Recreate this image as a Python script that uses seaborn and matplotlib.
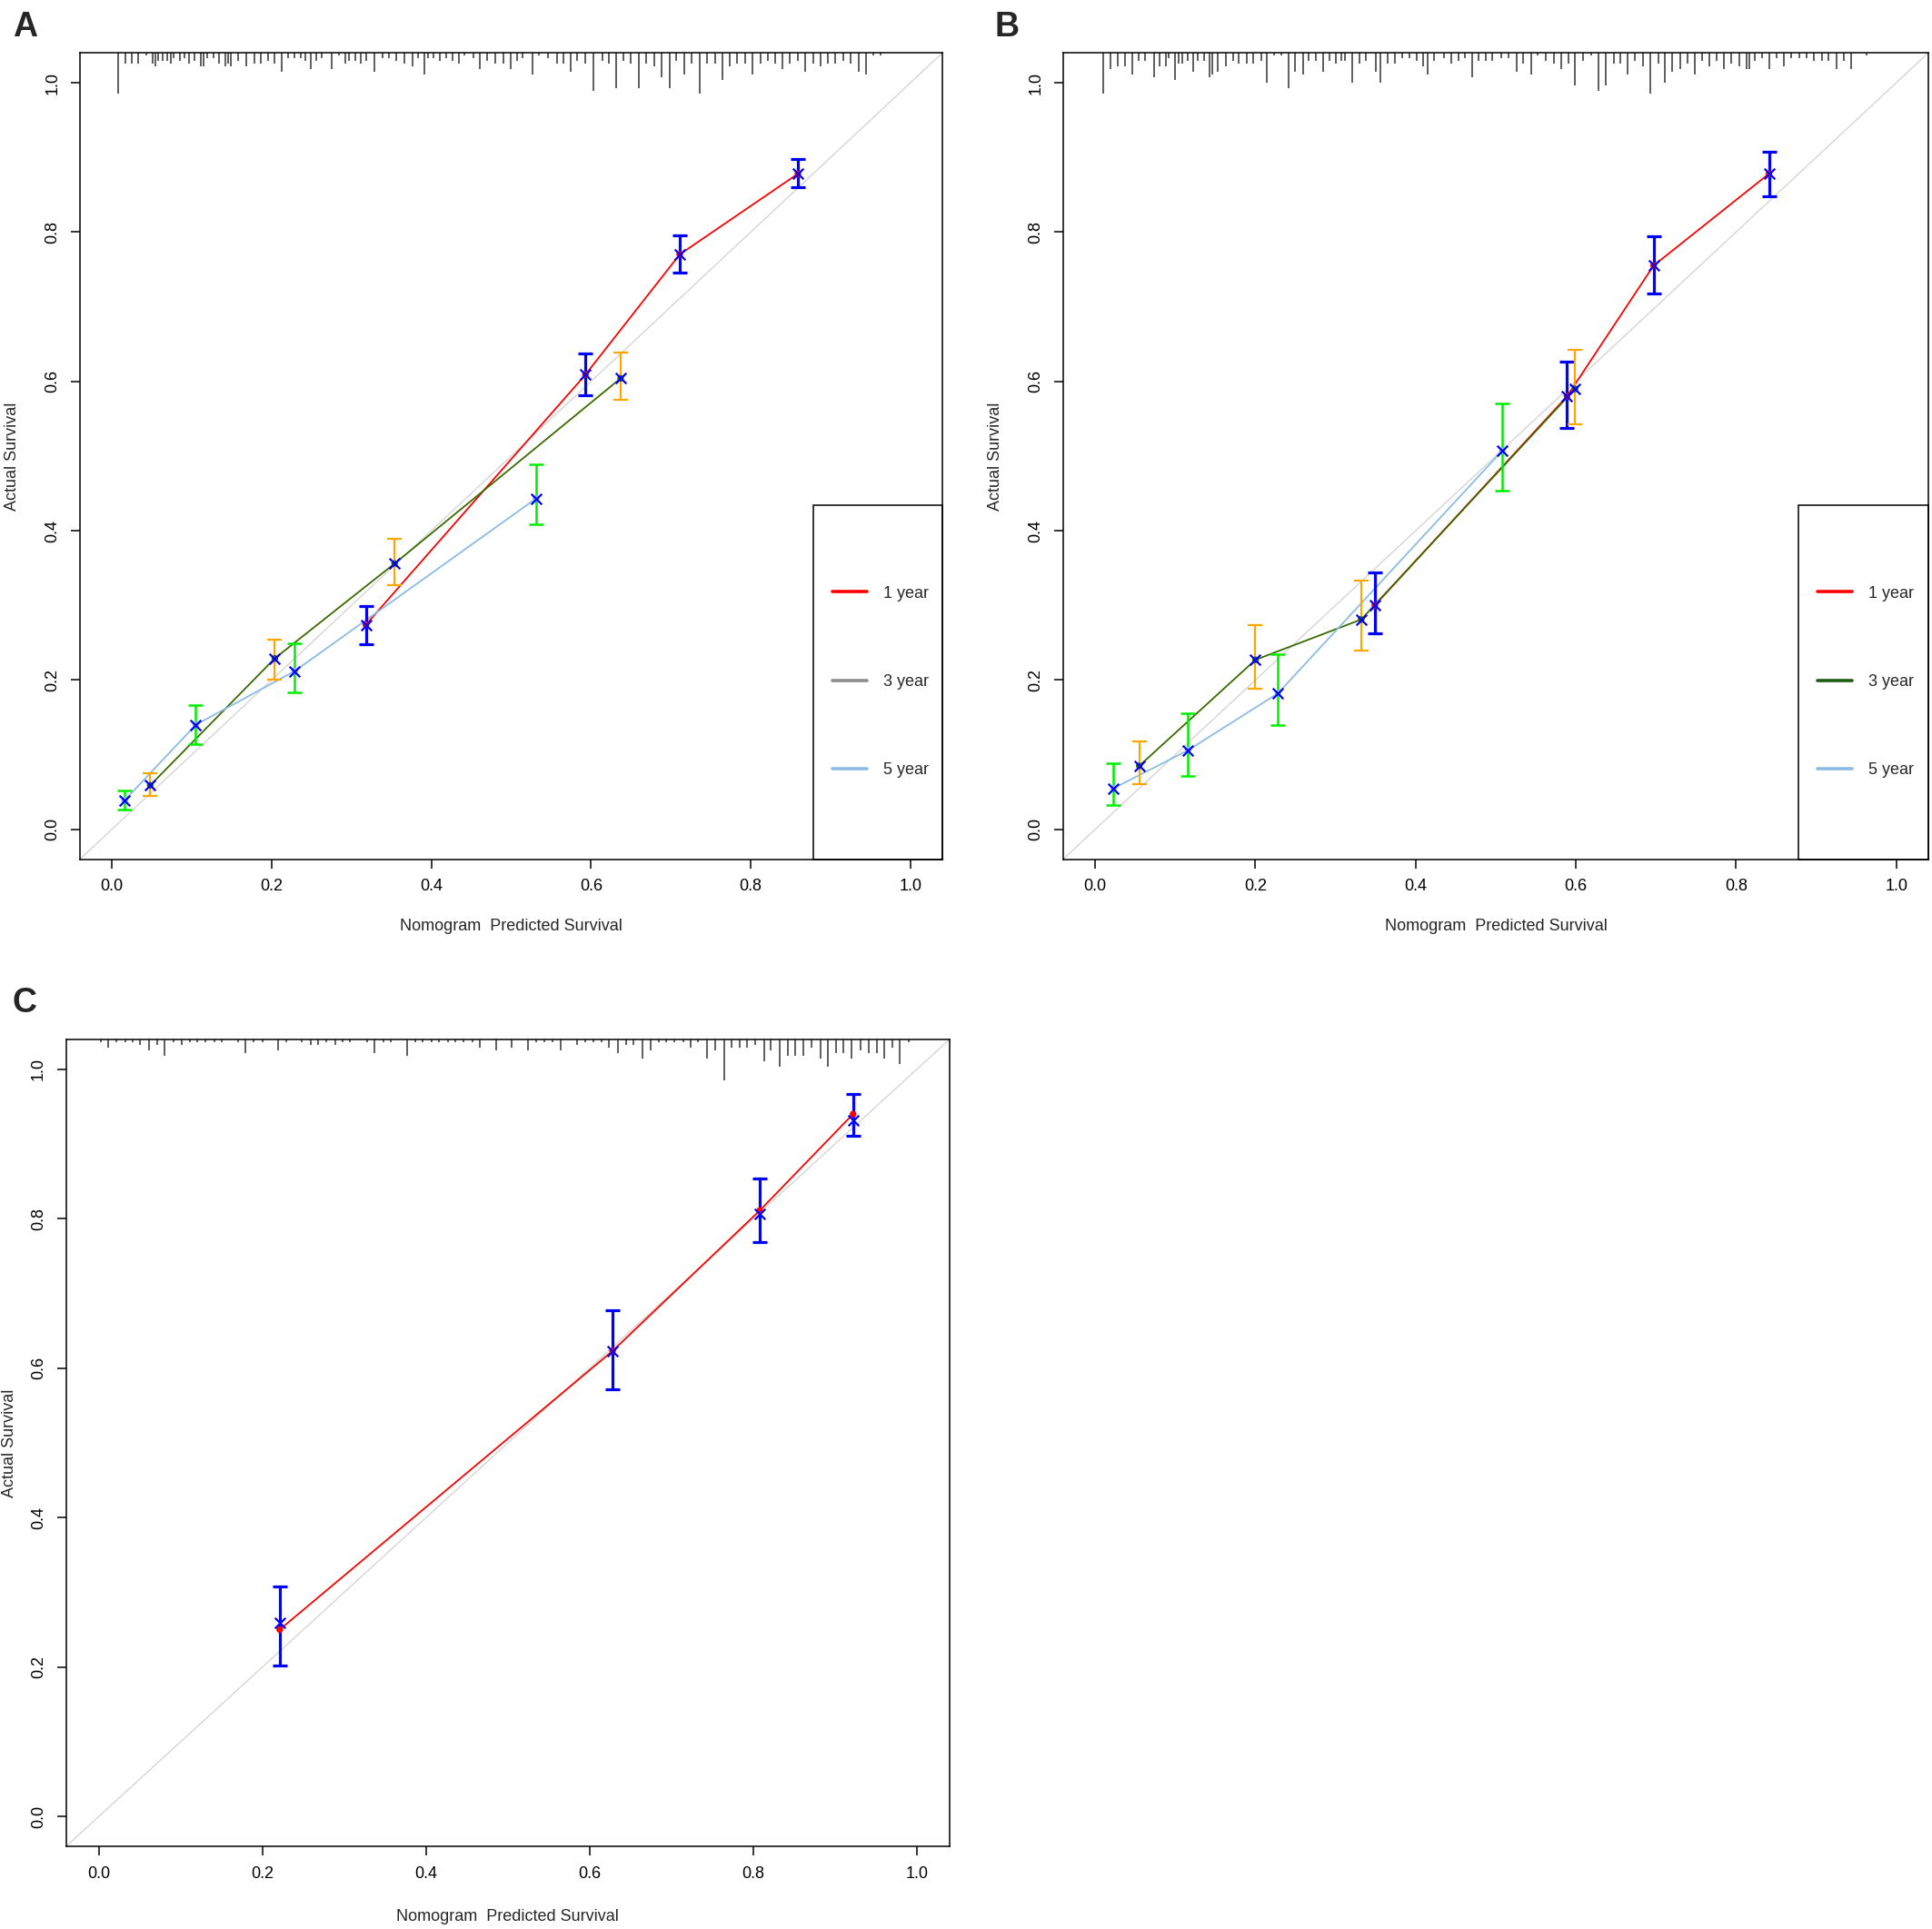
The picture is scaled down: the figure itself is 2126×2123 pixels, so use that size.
import numpy as np
import pandas as pd
import matplotlib
matplotlib.use("Agg")
import matplotlib.pyplot as plt
from matplotlib.lines import Line2D
from matplotlib.patches import Rectangle
import seaborn as sns

# ---------------- data ----------------
ticks = [0.0, 0.2, 0.4, 0.6, 0.8, 1.0]
tick_labels = ["0.0", "0.2", "0.4", "0.6", "0.8", "1.0"]
series_names = ["1 year", "3 year", "5 year"]

# panel A
a_pred_1y = [0.318, 0.593, 0.711, 0.859]
a_obs_1y = [0.274, 0.609, 0.770, 0.878]
a_lo_1y = [0.248, 0.581, 0.746, 0.860]
a_hi_1y = [0.299, 0.637, 0.795, 0.898]
a_pred_3y = [0.048, 0.204, 0.354, 0.637]
a_obs_3y = [0.059, 0.229, 0.356, 0.604]
a_lo_3y = [0.045, 0.201, 0.327, 0.575]
a_hi_3y = [0.075, 0.254, 0.389, 0.638]
a_pred_5y = [0.016, 0.105, 0.229, 0.531]
a_obs_5y = [0.039, 0.140, 0.212, 0.443]
a_lo_5y = [0.026, 0.114, 0.183, 0.408]
a_hi_5y = [0.052, 0.166, 0.249, 0.489]

# panel B
b_pred_1y = [0.349, 0.589, 0.697, 0.841]
b_obs_1y = [0.300, 0.580, 0.755, 0.878]
b_lo_1y = [0.262, 0.538, 0.718, 0.848]
b_hi_1y = [0.344, 0.626, 0.794, 0.908]
b_pred_3y = [0.055, 0.200, 0.332, 0.599]
b_obs_3y = [0.085, 0.227, 0.281, 0.590]
b_lo_3y = [0.060, 0.188, 0.239, 0.543]
b_hi_3y = [0.118, 0.273, 0.333, 0.642]
b_pred_5y = [0.023, 0.116, 0.228, 0.508]
b_obs_5y = [0.055, 0.106, 0.182, 0.507]
b_lo_5y = [0.033, 0.072, 0.140, 0.453]
b_hi_5y = [0.089, 0.155, 0.235, 0.570]

# panel C (only 1 year; x marks = bias corrected)
c_pred_1y = [0.221, 0.628, 0.808, 0.922]
c_obs_1y = [0.250, 0.623, 0.811, 0.940]
c_corr_1y = [0.259, 0.623, 0.806, 0.932]
c_lo_1y = [0.202, 0.572, 0.769, 0.911]
c_hi_1y = [0.308, 0.677, 0.854, 0.967]

# distribution of predicted values (rug at top): position, relative frequency
a_rug_x = [0.008, 0.017, 0.025, 0.033, 0.043, 0.051, 0.054, 0.058, 0.063, 0.069,
           0.074, 0.077, 0.085, 0.091, 0.097, 0.103, 0.111, 0.115, 0.119, 0.127,
           0.134, 0.142, 0.146, 0.149, 0.158, 0.168, 0.178, 0.187, 0.196, 0.204,
           0.213, 0.221, 0.229, 0.237, 0.242, 0.249, 0.256, 0.263, 0.275, 0.284,
           0.292, 0.297, 0.305, 0.312, 0.319, 0.329, 0.339, 0.347, 0.356, 0.366,
           0.376, 0.383, 0.391, 0.396, 0.403, 0.411, 0.419, 0.427, 0.434, 0.441,
           0.453, 0.461, 0.470, 0.480, 0.490, 0.499,
           0.507, 0.514, 0.527, 0.535, 0.546, 0.557, 0.565, 0.574, 0.583, 0.593,
           0.603, 0.614, 0.622, 0.631, 0.641, 0.650, 0.660, 0.669, 0.679, 0.688,
           0.698, 0.707, 0.717, 0.726, 0.736, 0.745, 0.755, 0.764, 0.774, 0.783,
           0.793, 0.802, 0.812, 0.821, 0.830, 0.840, 0.849, 0.859, 0.868, 0.878,
           0.887, 0.897, 0.906, 0.916, 0.925, 0.935, 0.944, 0.954, 0.962]
a_rug_n = [15, 4, 4, 4, 1, 4, 5, 3, 3, 3, 4, 2, 3, 2, 4, 3, 5, 5, 2, 2,
           4, 5, 4, 5, 3, 5, 4, 4, 3, 4, 7, 2, 2, 2, 3, 6, 3, 2, 6, 1,
           4, 3, 3, 4, 3, 7, 2, 2, 3, 4, 5, 2, 8, 2, 2, 3, 2, 3, 4, 1,
           2, 6, 3, 4, 4, 6,
           3, 2, 8, 1, 2, 4, 4, 7, 3, 4, 14, 3, 4, 13, 3, 4, 13, 4, 5, 9,
           13, 3, 8, 4, 15, 4, 4, 10, 5, 4, 4, 8, 4, 3, 4, 6, 4, 3, 7, 4,
           5, 4, 4, 3, 4, 7, 8, 1, 1]

b_rug_x = [0.010, 0.019, 0.028, 0.037, 0.046, 0.054, 0.062, 0.073, 0.080, 0.088,
           0.092, 0.100, 0.104, 0.109, 0.115, 0.122, 0.128, 0.136, 0.143, 0.146,
           0.153, 0.163, 0.172, 0.179, 0.189, 0.197, 0.207, 0.214, 0.223, 0.232,
           0.241, 0.249, 0.259, 0.266, 0.276, 0.284, 0.293, 0.300, 0.307, 0.312,
           0.321, 0.330, 0.338, 0.350, 0.356, 0.365, 0.374, 0.383, 0.392, 0.401,
           0.409, 0.415, 0.423, 0.435, 0.445, 0.454, 0.462, 0.470, 0.478, 0.488,
           0.496,
           0.507, 0.516, 0.526, 0.534, 0.544, 0.552, 0.563, 0.573, 0.582, 0.591,
           0.599, 0.609, 0.619, 0.628, 0.637, 0.647, 0.656, 0.665, 0.674, 0.684,
           0.693, 0.703, 0.711, 0.720, 0.730, 0.739, 0.748, 0.758, 0.767, 0.776,
           0.785, 0.794, 0.804, 0.813, 0.816, 0.823, 0.832, 0.841, 0.851, 0.860,
           0.869, 0.879, 0.888, 0.897, 0.907, 0.915, 0.925, 0.934, 0.944, 0.963]
b_rug_n = [15, 6, 5, 5, 8, 3, 3, 9, 5, 5, 2, 10, 4, 4, 3, 7, 3, 3, 9, 8,
           7, 5, 3, 4, 4, 4, 3, 11, 1, 1, 13, 7, 8, 3, 3, 7, 3, 4, 3, 3,
           11, 4, 3, 7, 11, 4, 4, 2, 2, 3, 5, 8, 3, 2, 4, 3, 2, 9, 3, 3,
           3,
           2, 2, 7, 4, 8, 1, 3, 4, 6, 4, 12, 3, 1, 14, 12, 4, 4, 8, 3, 5,
           15, 4, 11, 7, 6, 4, 8, 3, 5, 3, 6, 4, 5, 6, 6, 3, 2, 6, 2, 5,
           2, 2, 2, 3, 3, 3, 6, 3, 6, 1]

c_rug_x = [0.002, 0.011, 0.021, 0.032, 0.041, 0.050, 0.061, 0.071, 0.080, 0.091,
           0.101, 0.111, 0.120, 0.130, 0.141, 0.150, 0.170, 0.179, 0.189, 0.200,
           0.219, 0.229, 0.248, 0.259, 0.268, 0.278, 0.289, 0.298, 0.307, 0.328,
           0.337, 0.348, 0.357, 0.377, 0.387, 0.396, 0.407, 0.416, 0.427, 0.436,
           0.446, 0.457, 0.466, 0.486, 0.505, 0.525, 0.535, 0.545, 0.555, 0.564,
           0.585, 0.594, 0.604, 0.614, 0.623, 0.634, 0.644, 0.653, 0.664, 0.674,
           0.684, 0.693, 0.703, 0.714, 0.723, 0.732, 0.743, 0.753, 0.764, 0.773,
           0.783, 0.792, 0.802, 0.813, 0.821, 0.832, 0.842, 0.851, 0.861, 0.871,
           0.882, 0.891, 0.901, 0.910, 0.920, 0.931, 0.941, 0.951, 0.960, 0.970,
           0.979, 0.990]
c_rug_n = [1, 3, 1, 1, 1, 2, 4, 2, 6, 1, 2, 1, 1, 1, 1, 1, 1, 5, 1, 1,
           4, 1, 1, 2, 2, 1, 2, 1, 1, 1, 5, 1, 1, 6, 1, 1, 1, 1, 1, 1,
           1, 1, 3, 4, 3, 4, 1, 1, 1, 4, 2, 1, 1, 1, 3, 5, 2, 2, 7, 4,
           1, 1, 1, 1, 3, 1, 7, 4, 15, 3, 3, 3, 2, 8, 4, 10, 6, 6, 6, 3,
           7, 10, 5, 5, 7, 4, 5, 5, 7, 3, 9, 1]

# ---------------- style ----------------
line_colors = {"1 year": "#ff0000", "3 year": "#3a6a00", "5 year": "#8dbbe6"}
bar_colors = {"1 year": "#0000ff", "3 year": "#ffa500", "5 year": "#00ee00"}
bar_widths = {"1 year": 2.3, "3 year": 1.6, "5 year": 1.8}
RUG_UNIT = 0.00365
LIM = (-0.04, 1.04)

sns.set_style("ticks")
plt.rcParams["font.family"] = ["Liberation Sans", "DejaVu Sans"]
plt.rcParams["axes.edgecolor"] = "black"
plt.rcParams["axes.linewidth"] = 1.1


def draw_panel(ax, series, rug_x, rug_n, legend_colors=None, corrected=None,
               ylab_x=-0.0695, xlab_y=-0.074):
    ax.set_xlim(*LIM)
    ax.set_ylim(*LIM)
    ax.axline((0, 0), slope=1, color="#d6d6d6", lw=1.0, zorder=1)
    top = LIM[1]
    ax.vlines(rug_x, top - np.array(rug_n) * RUG_UNIT, top,
              color="#333333", lw=1.1, zorder=2)

    for name, pred, obs, lo, hi in series:
        df = pd.DataFrame({"pred": pred, "obs": obs})
        sns.lineplot(data=df, x="pred", y="obs", color=line_colors[name],
                     lw=1.3, sort=False, estimator=None, ax=ax, zorder=3)
        obs_a = np.array(obs)
        ax.errorbar(pred, obs, yerr=[obs_a - np.array(lo), np.array(hi) - obs_a],
                    fmt="none", ecolor=bar_colors[name], elinewidth=bar_widths[name],
                    capsize=6, capthick=bar_widths[name], zorder=4)
        sns.scatterplot(x=pred, y=obs, color=line_colors[name], s=28,
                        edgecolor="none", ax=ax, zorder=5)
        xs = corrected if corrected is not None else obs
        sns.scatterplot(x=pred, y=xs, color="#0000ff", marker="x", s=70,
                        linewidth=1.6, ax=ax, zorder=6)

    ax.set_xticks(ticks)
    ax.set_xticklabels(tick_labels)
    ax.set_yticks(ticks)
    ax.set_yticklabels(tick_labels, rotation=90, va="center")
    ax.tick_params(direction="out", length=7.2, width=1.1, labelsize=13,
                   pad=8.5, colors="black")
    for s in ax.spines.values():
        s.set_visible(True)
        s.set_color("black")
        s.set_linewidth(1.1)
    ax.set_xlabel("Nomogram  Predicted Survival", fontsize=13)
    ax.set_ylabel("Actual Survival", fontsize=13)
    ax.yaxis.set_label_coords(ylab_x, 0.5)
    ax.xaxis.set_label_coords(0.5, xlab_y)

    if legend_colors is not None:
        ax.add_patch(Rectangle((0.850, 0.0), 0.150, 0.439, transform=ax.transAxes,
                               fill=False, ec="black", lw=1.1, zorder=7,
                               clip_on=False))
        handles = [Line2D([], [], color=c, lw=2.6) for c in legend_colors]
        ax.legend(handles, series_names, loc="center left",
                  bbox_to_anchor=(0.872, 0.22), frameon=False, fontsize=13,
                  handlelength=2.1, handletextpad=1.0, labelspacing=4.45,
                  borderpad=0, borderaxespad=0)


fig = plt.figure(figsize=(21.26, 21.23), dpi=100)
ax_a = fig.add_axes([0.0414, 0.5546, 0.4464, 0.418])
ax_b = fig.add_axes([0.5503, 0.5546, 0.4478, 0.418])
ax_c = fig.add_axes([0.0343, 0.0429, 0.4572, 0.4183])

draw_panel(ax_a,
           [("1 year", a_pred_1y, a_obs_1y, a_lo_1y, a_hi_1y),
            ("3 year", a_pred_3y, a_obs_3y, a_lo_3y, a_hi_3y),
            ("5 year", a_pred_5y, a_obs_5y, a_lo_5y, a_hi_5y)],
           a_rug_x, a_rug_n,
           legend_colors=["#ff0000", "#8c8c8c", "#8dbbe6"])
draw_panel(ax_b,
           [("1 year", b_pred_1y, b_obs_1y, b_lo_1y, b_hi_1y),
            ("3 year", b_pred_3y, b_obs_3y, b_lo_3y, b_hi_3y),
            ("5 year", b_pred_5y, b_obs_5y, b_lo_5y, b_hi_5y)],
           b_rug_x, b_rug_n,
           legend_colors=["#ff0000", "#1d5a12", "#8dbbe6"])
draw_panel(ax_c,
           [("1 year", c_pred_1y, c_obs_1y, c_lo_1y, c_hi_1y)],
           c_rug_x, c_rug_n, corrected=c_corr_1y,
           ylab_x=-0.0556, xlab_y=-0.078)

for label, x, y in [("A", 0.0065, 0.9945), ("B", 0.515, 0.9945), ("C", 0.0065, 0.4885)]:
    fig.text(x, y, label, ha="left", va="top", fontsize=27, fontweight="bold")

fig.savefig("out.png", dpi=100)
